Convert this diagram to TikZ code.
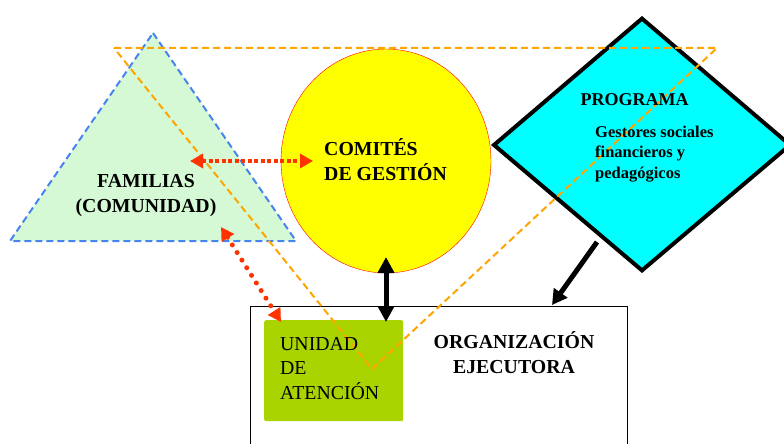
\documentclass[tikz,border=0pt]{standalone}
\usepackage{fontspec}
\setmainfont{Liberation Serif}
\usetikzlibrary{arrows.meta,shapes.geometric}
\definecolor{famgreen}{RGB}{212,249,212}
\definecolor{famblue}{RGB}{72,132,240}
\definecolor{lineorange}{RGB}{255,165,0}
\definecolor{arrowred}{RGB}{255,51,0}
\definecolor{unigreen}{RGB}{170,212,0}
\definecolor{comyellow}{RGB}{255,255,0}
\definecolor{comred}{RGB}{255,0,0}
\definecolor{progcyan}{RGB}{0,255,255}
\tikzset{
  bigtext/.style={font=\fontsize{19.8}{25}\selectfont\bfseries, inner sep=0pt},
  redlink/.style={arrowred, line width=4pt, {Triangle[length=13pt,width=14pt]}-{Triangle[length=13pt,width=14pt]}},
  blacklink/.style={line width=5pt},
}
\begin{document}
\begin{tikzpicture}[x=1pt,y=-1pt]
    \useasboundingbox (0,0) rectangle (784,444);
    \clip (0,0) rectangle (784,444);
    \coordinate (famtop) at (153,33);
    \coordinate (famleft) at (10,241);
    \coordinate (famright) at (296,241);
    \draw[famblue, fill=famgreen, line width=2pt, dash pattern=on 7pt off 4pt] (famtop) -- (famright) -- (famleft) -- cycle;
    \node[draw=comred, fill=comyellow, ellipse, minimum width=210pt, minimum height=224pt, inner sep=0pt] (comite) at (386,161) {};
    \coordinate (progtop) at (642,18.6);
    \coordinate (progleft) at (494,145);
    \coordinate (progright) at (790,145);
    \coordinate (progbottom) at (642,270.4);
    \draw[line width=4pt, fill=progcyan] (progtop) -- (progright) -- (progbottom) -- (progleft) -- cycle;
    \node[draw, line width=1pt, anchor=north west, minimum width=377pt, minimum height=160pt] (org) at (250,306) {};
    \node[fill=unigreen, rounded corners=2pt, anchor=north west, minimum width=139pt, minimum height=101pt] (unidad) at (264,320) {};
    \draw[lineorange, line width=2pt, dash pattern=on 7pt off 4pt] (114,48) -- (717,48) -- (372,369) -- cycle;
    \node[bigtext, align=center] (famtxt) at (146,195.7) {FAMILIAS\\(COMUNIDAD)};
    \node[bigtext, align=left, anchor=west] (comtxt) at (324,160) {COMITÉS\\DE GESTIÓN};
    \node[font=\fontsize{18}{22}\selectfont\bfseries, inner sep=0pt] (progtxt) at (634.5,100) {PROGRAMA};
    \node[font=\fontsize{16.5}{20.5}\selectfont\bfseries, inner sep=0pt, align=left, anchor=west] (gestxt) at (595,153.6) {Gestores sociales\\financieros y\\pedagógicos};
    \node[bigtext, align=center] (orgtxt) at (514,352.3) {ORGANIZACIÓN\\EJECUTORA};
    \node[font=\fontsize{19.8}{24.5}\selectfont, inner sep=0pt, align=left, anchor=west] (unitxt) at (280,368.5) {UNIDAD\\DE\\ATENCIÓN};
    \coordinate (famright end) at (190,161);
    \coordinate (comleft end) at (313,161);
    \coordinate (famlow end) at (221,227);
    \coordinate (unitop end) at (281,322);
    \coordinate (comlow end) at (386,257);
    \coordinate (unimid end) at (386,322);
    \coordinate (progfoot) at (597,242);
    \coordinate (orgtop end) at (552,305);
    \draw[redlink, dash pattern=on 4pt off 2.5pt] (famright end) -- (comleft end);
    \draw[redlink, line width=5pt, line cap=round, dash pattern=on 0pt off 9pt] (famlow end) -- (unitop end);
    \draw[blacklink, {Triangle[length=16pt,width=16pt]}-{Triangle[length=16pt,width=16pt]}] (comlow end) -- (unimid end);
    \draw[blacklink, -{Triangle[length=15pt,width=16pt]}] (progfoot) -- (orgtop end);
\end{tikzpicture}
\end{document}
